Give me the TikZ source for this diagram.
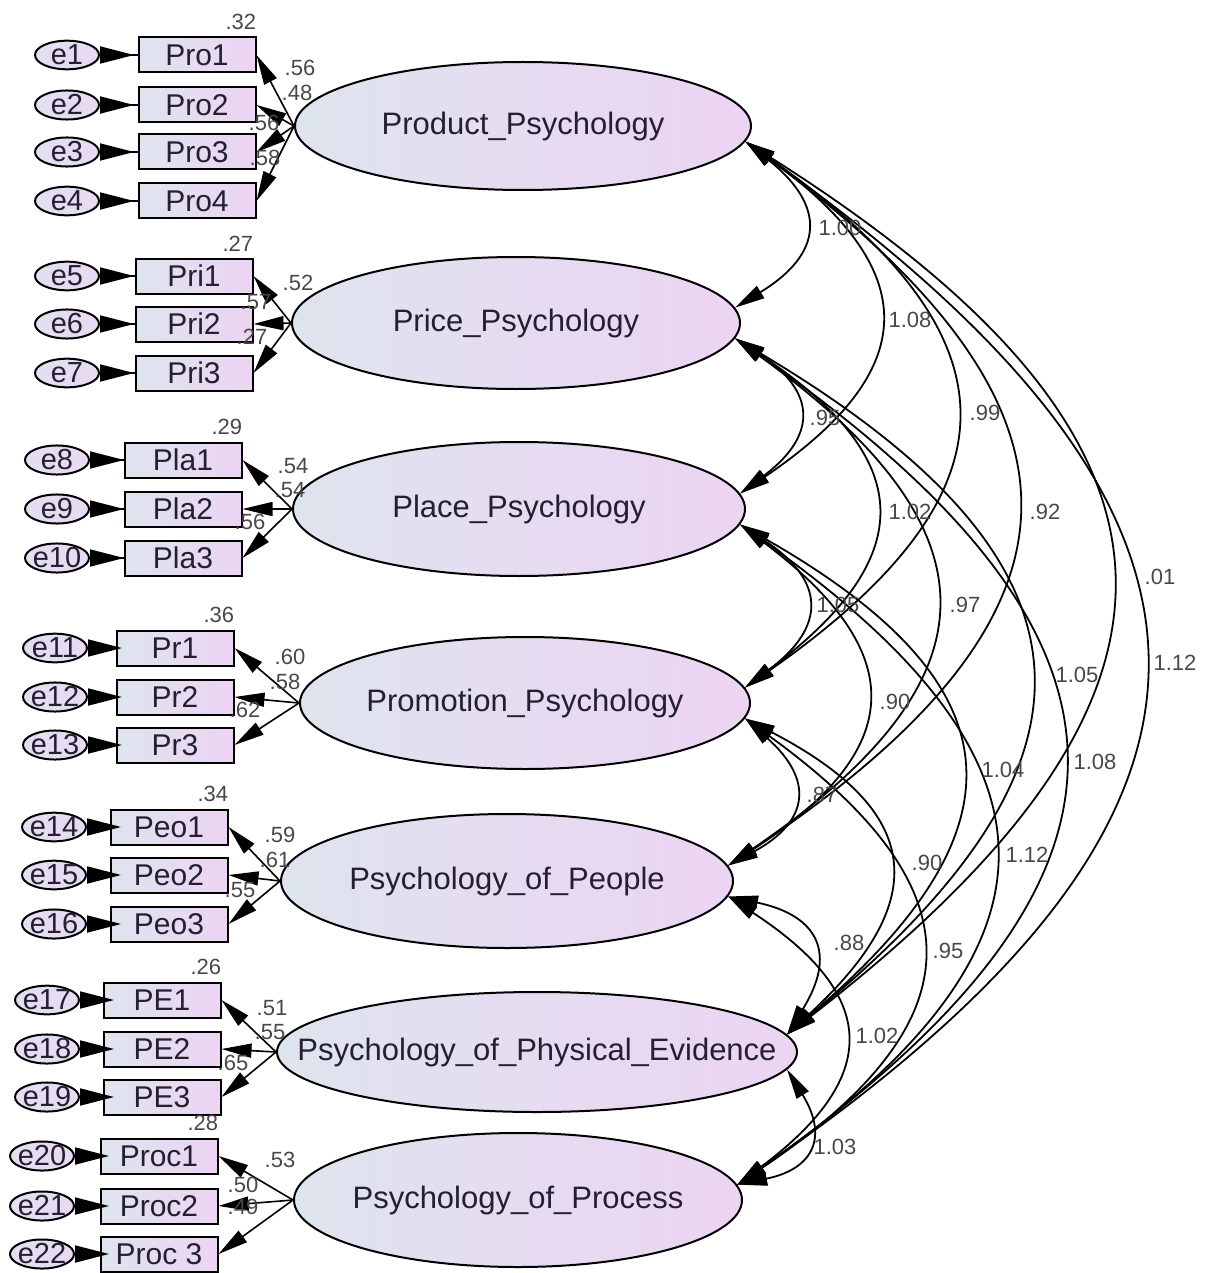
\documentclass[tikz,border=0pt]{standalone}
\usepackage{fontspec}
\setmainfont{Liberation Sans}
\usetikzlibrary{shapes.geometric,arrows.meta,positioning}
\definecolor{fillleft}{RGB}{222,228,238}
\definecolor{fillright}{RGB}{236,212,243}
\definecolor{errfill}{RGB}{232,218,242}
\definecolor{inkdark}{RGB}{36,32,50}
\definecolor{estgray}{RGB}{72,72,72}
\tikzset{
    latent/.style = {draw, ellipse, line width=1pt, left color=fillleft, right color=fillright, inner sep=0pt, text=inkdark, font=\fontsize{15.5}{18}\selectfont},
    indicator/.style = {draw, rectangle, line width=1pt, left color=fillleft, right color=fillright, minimum width=58.5pt, minimum height=17.5pt, inner sep=0pt, text=inkdark, font=\fontsize{15}{18}\selectfont},
    errterm/.style = {draw, ellipse, line width=1pt, left color=fillleft!40!errfill, right color=errfill, minimum width=32pt, minimum height=14pt, inner sep=0pt, text=inkdark, font=\fontsize{14.5}{17}\selectfont},
    errlink/.style = {{Triangle[reversed,length=17pt,width=8.5pt]}-, line width=0.9pt},
    loading/.style = {-{Triangle[length=15pt,width=7pt]}, line width=0.8pt},
    covar/.style = {{Triangle[length=15pt,width=7pt]}-{Triangle[length=15pt,width=7pt]}, line width=0.9pt, bend left=55, looseness=1.6},
    est/.style = {text=estgray, font=\fontsize{11}{13}\selectfont, inner sep=0pt},
}

\begin{document}
\begin{tikzpicture}[x=0.5pt, y=0.5pt]
\useasboundingbox (0,0) rectangle (1208,-1273);

% latent variables
\node[latent, minimum width=228pt, minimum height=64pt] (prod) at (523,-126) {\makebox[0pt]{Product\_Psychology}};
\node[latent, minimum width=224pt, minimum height=66pt] (price) at (516,-323) {\makebox[0pt]{Price\_Psychology}};
\node[latent, minimum width=226pt, minimum height=67pt] (place) at (519,-509) {\makebox[0pt]{Place\_Psychology}};
\node[latent, minimum width=225pt, minimum height=66pt] (promo) at (525,-703) {\makebox[0pt]{Promotion\_Psychology}};
\node[latent, minimum width=226pt, minimum height=67pt] (people) at (507,-881) {\makebox[0pt]{Psychology\_of\_People}};
\node[latent, minimum width=260pt, minimum height=60pt] (physev) at (537,-1052) {\makebox[0pt]{Psychology\_of\_Physical\_Evidence}};
\node[latent, minimum width=224pt, minimum height=67pt] (process) at (518,-1200) {\makebox[0pt]{Psychology\_of\_Process}};

% observed variables
\node[indicator] (pro1) at (197,-55) {Pro1};
\node[indicator] (pro2) at (197,-105) {Pro2};
\node[indicator] (pro3) at (197,-152) {Pro3};
\node[indicator] (pro4) at (197,-201) {Pro4};
\node[indicator] (pri1) at (194,-276) {Pri1};
\node[indicator] (pri2) at (194,-324) {Pri2};
\node[indicator] (pri3) at (194,-373) {Pri3};
\node[indicator] (pla1) at (183,-460) {Pla1};
\node[indicator] (pla2) at (183,-509) {Pla2};
\node[indicator] (pla3) at (183,-558) {Pla3};
\node[indicator] (pr1) at (175,-648) {Pr1};
\node[indicator] (pr2) at (175,-697) {Pr2};
\node[indicator] (pr3) at (175,-745) {Pr3};
\node[indicator] (peo1) at (169,-827) {Peo1};
\node[indicator] (peo2) at (169,-875) {Peo2};
\node[indicator] (peo3) at (169,-924) {Peo3};
\node[indicator] (pe1) at (162,-1000) {PE1};
\node[indicator] (pe2) at (162,-1049) {PE2};
\node[indicator] (pe3) at (162,-1097) {PE3};
\node[indicator] (proc1) at (159,-1156) {Proc1};
\node[indicator] (proc2) at (159,-1206) {Proc2};
\node[indicator] (proc3) at (159,-1254) {Proc 3};

% error terms
\node[errterm] (e1) at (67,-55) {\makebox[0pt]{e1}};
\node[errterm] (e2) at (67,-105) {\makebox[0pt]{e2}};
\node[errterm] (e3) at (67,-152) {\makebox[0pt]{e3}};
\node[errterm] (e4) at (67,-201) {\makebox[0pt]{e4}};
\node[errterm] (e5) at (67,-276) {\makebox[0pt]{e5}};
\node[errterm] (e6) at (67,-324) {\makebox[0pt]{e6}};
\node[errterm] (e7) at (67,-373) {\makebox[0pt]{e7}};
\node[errterm] (e8) at (57,-460) {\makebox[0pt]{e8}};
\node[errterm] (e9) at (57,-509) {\makebox[0pt]{e9}};
\node[errterm] (e10) at (57,-558) {\makebox[0pt]{e10}};
\node[errterm] (e11) at (55,-648) {\makebox[0pt]{e11}};
\node[errterm] (e12) at (55,-697) {\makebox[0pt]{e12}};
\node[errterm] (e13) at (55,-745) {\makebox[0pt]{e13}};
\node[errterm] (e14) at (54,-827) {\makebox[0pt]{e14}};
\node[errterm] (e15) at (54,-875) {\makebox[0pt]{e15}};
\node[errterm] (e16) at (54,-924) {\makebox[0pt]{e16}};
\node[errterm] (e17) at (47,-1000) {\makebox[0pt]{e17}};
\node[errterm] (e18) at (47,-1049) {\makebox[0pt]{e18}};
\node[errterm] (e19) at (47,-1097) {\makebox[0pt]{e19}};
\node[errterm] (e20) at (42,-1156) {\makebox[0pt]{e20}};
\node[errterm] (e21) at (42,-1206) {\makebox[0pt]{e21}};
\node[errterm] (e22) at (42,-1254) {\makebox[0pt]{e22}};

% error links
\draw[errlink] (e1) -- (pro1);
\draw[errlink] (e2) -- (pro2);
\draw[errlink] (e3) -- (pro3);
\draw[errlink] (e4) -- (pro4);
\draw[errlink] (e5) -- (pri1);
\draw[errlink] (e6) -- (pri2);
\draw[errlink] (e7) -- (pri3);
\draw[errlink] (e8) -- (pla1);
\draw[errlink] (e9) -- (pla2);
\draw[errlink] (e10) -- (pla3);
\draw[errlink] (e11) -- (pr1);
\draw[errlink] (e12) -- (pr2);
\draw[errlink] (e13) -- (pr3);
\draw[errlink] (e14) -- (peo1);
\draw[errlink] (e15) -- (peo2);
\draw[errlink] (e16) -- (peo3);
\draw[errlink] (e17) -- (pe1);
\draw[errlink] (e18) -- (pe2);
\draw[errlink] (e19) -- (pe3);
\draw[errlink] (e20) -- (proc1);
\draw[errlink] (e21) -- (proc2);
\draw[errlink] (e22) -- (proc3);

% loadings
\draw[loading] (prod.west) -- (pro1.east);
\draw[loading] (prod.west) -- (pro2.east);
\draw[loading] (prod.west) -- (pro3.east);
\draw[loading] (prod.west) -- (pro4.east);
\draw[loading] (price.west) -- (pri1.east);
\draw[loading] (price.west) -- (pri2.east);
\draw[loading] (price.west) -- (pri3.east);
\draw[loading] (place.west) -- (pla1.east);
\draw[loading] (place.west) -- (pla2.east);
\draw[loading] (place.west) -- (pla3.east);
\draw[loading] (promo.west) -- (pr1.east);
\draw[loading] (promo.west) -- (pr2.east);
\draw[loading] (promo.west) -- (pr3.east);
\draw[loading] (people.west) -- (peo1.east);
\draw[loading] (people.west) -- (peo2.east);
\draw[loading] (people.west) -- (peo3.east);
\draw[loading] (physev.west) -- (pe1.east);
\draw[loading] (physev.west) -- (pe2.east);
\draw[loading] (physev.west) -- (pe3.east);
\draw[loading] (process.west) -- (proc1.east);
\draw[loading] (process.west) -- (proc2.east);
\draw[loading] (process.west) -- (proc3.east);

% squared multiple correlations
\node[est, above left=3pt and 0pt] (r2pro) at (pro1.north east) {.32};
\node[est, above left=3pt and 0pt] (r2pri) at (pri1.north east) {.27};
\node[est, above left=3pt and 0pt] (r2pla) at (pla1.north east) {.29};
\node[est, above left=3pt and 0pt] (r2pr) at (pr1.north east) {.36};
\node[est, above left=3pt and 0pt] (r2peo) at (peo1.north east) {.34};
\node[est, above left=3pt and 0pt] (r2pe) at (pe1.north east) {.26};
\node[est, above left=3pt and 0pt] (r2proc) at (proc1.north east) {.28};

% loading estimates
\node[est] (lpro1) at (300,-68) {.56};
\node[est] (lpro2) at (297,-93) {.48};
\node[est] (lpro3) at (264,-123) {.56};
\node[est] (lpro4) at (265,-158) {.58};
\node[est] (lpri1) at (298,-283) {.52};
\node[est] (lpri2) at (256,-302) {.57};
\node[est] (lpri3) at (252,-337) {.27};
\node[est] (lpla1) at (293,-466) {.54};
\node[est] (lpla2) at (290,-490) {.54};
\node[est] (lpla3) at (250,-522) {.56};
\node[est] (lpr1) at (290,-657) {.60};
\node[est] (lpr2) at (285,-682) {.58};
\node[est] (lpr3) at (245,-710) {.62};
\node[est] (lpeo1) at (280,-835) {.59};
\node[est] (lpeo2) at (275,-860) {.61};
\node[est] (lpeo3) at (240,-890) {.55};
\node[est] (lpe1) at (272,-1008) {.51};
\node[est] (lpe2) at (270,-1032) {.55};
\node[est] (lpe3) at (233,-1063) {.65};
\node[est] (lproc1) at (280,-1160) {.53};
\node[est] (lproc2) at (243,-1185) {.50};
\node[est] (lproc3) at (243,-1207) {.49};

% covariances
\draw[covar] (prod.-4) to (price.4);
\draw[covar] (prod.-4) to (place.4);
\draw[covar] (prod.-4) to (promo.4);
\draw[covar] (prod.-4) to (people.4);
\draw[covar] (prod.-4) to (physev.4);
\draw[covar] (prod.-4) to (process.4);
\draw[covar] (price.-4) to (place.4);
\draw[covar] (price.-4) to (promo.4);
\draw[covar] (price.-4) to (people.4);
\draw[covar] (price.-4) to (physev.4);
\draw[covar] (price.-4) to (process.4);
\draw[covar] (place.-4) to (promo.4);
\draw[covar] (place.-4) to (people.4);
\draw[covar] (place.-4) to (physev.4);
\draw[covar] (place.-4) to (process.4);
\draw[covar] (promo.-4) to (people.4);
\draw[covar] (promo.-4) to (physev.4);
\draw[covar] (promo.-4) to (process.4);
\draw[covar] (people.-4) to (physev.4);
\draw[covar] (people.-4) to (process.4);
\draw[covar] (physev.-4) to (process.4);

% covariance estimates
\node[est] (c12) at (840,-228) {1.00};
\node[est] (c13) at (910,-320) {1.08};
\node[est] (c23) at (825,-418) {.95};
\node[est] (c14) at (985,-413) {.99};
\node[est] (c24) at (910,-512) {1.02};
\node[est] (c15) at (1045,-512) {.92};
\node[est] (c34) at (838,-605) {1.05};
\node[est] (c25) at (965,-605) {.97};
\node[est] (c16) at (1160,-577) {.01};
\node[est] (c17) at (1175,-663) {1.12};
\node[est] (c35) at (895,-702) {.90};
\node[est] (c26) at (1077,-675) {1.05};
\node[est] (c36) at (1003,-770) {1.04};
\node[est] (c27) at (1095,-762) {1.08};
\node[est] (c45) at (822,-795) {.87};
\node[est] (c46) at (927,-863) {.90};
\node[est] (c37) at (1027,-855) {1.12};
\node[est] (c56) at (849,-943) {.88};
\node[est] (c47) at (948,-951) {.95};
\node[est] (c57) at (877,-1036) {1.02};
\node[est] (c67) at (835,-1147) {1.03};
\end{tikzpicture}
\end{document}
